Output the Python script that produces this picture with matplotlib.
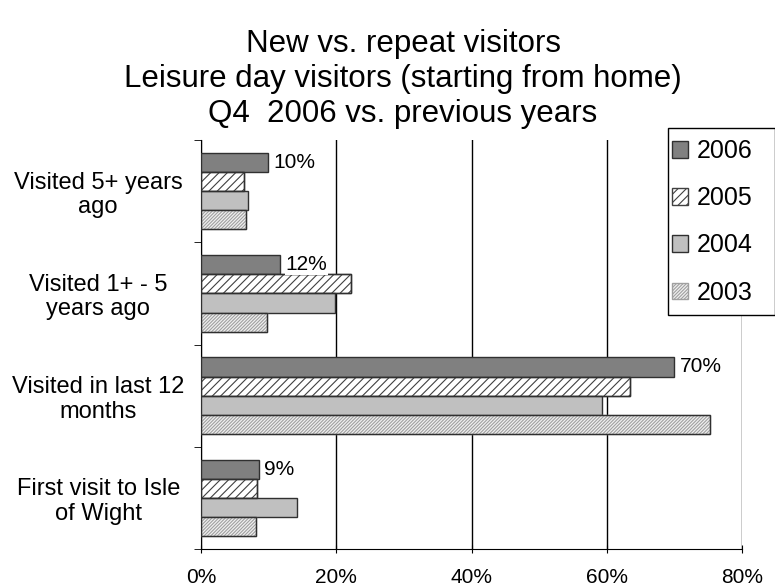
import numpy as np
import matplotlib.pyplot as plt
from matplotlib.patches import Rectangle
from matplotlib.ticker import FuncFormatter

plt.rcParams['font.family'] = ['Liberation Sans', 'DejaVu Sans']
plt.rcParams['hatch.linewidth'] = 0.8

categories = ["Visited 5+ years\nago", "Visited 1+ - 5\nyears ago",
              "Visited in last 12\nmonths", "First visit to Isle\nof Wight"]
years = ["2006", "2005", "2004", "2003"]
v2006 = [9.9, 11.7, 70.0, 8.6]
v2005 = [6.4, 22.2, 63.5, 8.3]
v2004 = [7.0, 19.8, 59.3, 14.2]
v2003 = [6.7, 9.8, 75.3, 8.1]
labels2006 = ["10%", "12%", "70%", "9%"]

series = [v2006, v2005, v2004, v2003]
faces = ["#808080", "white", "#c0c0c0", "#f0f0f0"]
hatches = [None, "////", None, "//////////"]
hatch_cols = ["#404040", "#404040", "#404040", "#a0a0a0"]

W, H = 775, 587
fig = plt.figure(figsize=(7.75, 5.87), dpi=100)
ax = fig.add_axes([201/W, 1-549/H, 541/W, 409/H])

n = len(categories)
y = np.arange(n)[::-1].astype(float)
h = 0.187
handles = []
for i, vals in enumerate(series):
    pos = y + 0.28 - i * h
    bars = ax.barh(pos, vals, height=h, color=faces[i], edgecolor="#303030",
                   linewidth=1.0, hatch=hatches[i], zorder=3, label=years[i])
    if hatches[i]:
        for b in bars:
            b.set_edgecolor(hatch_cols[i])
        # outline on top of the hatch
        ax.barh(pos, vals, height=h, color="none", edgecolor="#303030",
                linewidth=1.0, zorder=4)
    handles.append(bars)

for j, v in enumerate(v2006):
    ax.text(v + 0.75, y[j] + 0.28, labels2006[j], va="center", ha="left",
            fontsize=15, zorder=5,
            bbox=dict(facecolor="white", edgecolor="none", pad=0.5))

ax.set_xlim(0, 80)
ax.set_ylim(-0.5, n - 0.5)
ax.set_xticks([0, 20, 40, 60, 80])
ax.xaxis.set_major_formatter(FuncFormatter(lambda v, p: f"{v:.0f}%"))
ax.grid(axis="x", color="black", linewidth=1.0, zorder=0)
ax.set_yticks(y)
ax.set_yticklabels(categories, fontsize=17, ha="center", linespacing=1.15)
ax.tick_params(axis="y", length=0, pad=74)
ax.set_yticks(np.arange(n + 1) - 0.5, minor=True)
ax.tick_params(axis="y", which="minor", length=5, direction="out")
ax.tick_params(axis="x", labelsize=15, length=6, direction="inout", pad=11)
for s in ["top", "right"]:
    ax.spines[s].set_visible(False)
for s in ["left", "bottom"]:
    ax.spines[s].set_color("black")

fig.text(0.52, 1 - 79/H, "New vs. repeat visitors\nLeisure day visitors (starting from home)\nQ4  2006 vs. previous years",
         ha="center", va="center", fontsize=22.5, linespacing=1.2)

# legend box
fig.patches.append(Rectangle((668/W, 1 - 315/H), 107/W, 187/H, transform=fig.transFigure,
                             facecolor="white", edgecolor="black", linewidth=1.0, zorder=5))
leg = fig.legend(handles=handles, labels=years, loc="upper left",
                 bbox_to_anchor=(672/W, 1 - 139/H), fontsize=18,
                 frameon=False, handlelength=0.65, handleheight=0.65,
                 handletextpad=0.35, labelspacing=0.93, borderpad=0,
                 borderaxespad=0)
leg.set_zorder(6)

fig.savefig("out.png", dpi=100)
